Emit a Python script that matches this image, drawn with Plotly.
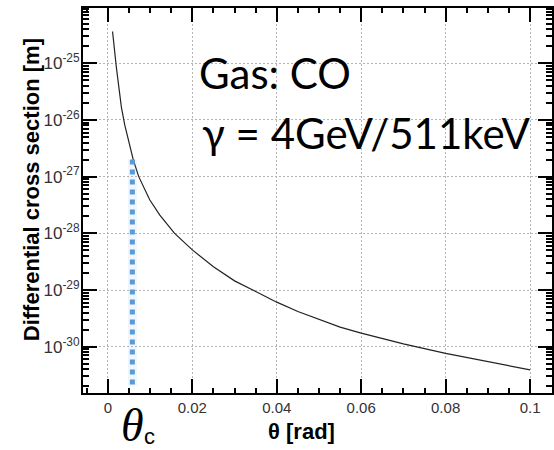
import plotly.graph_objects as go

# Differential cross section vs scattering angle
theta_rad = [0.0011, 0.0015, 0.0020, 0.0027, 0.0032, 0.0040, 0.0048, 0.0060,
             0.0073, 0.0099, 0.0123, 0.0158, 0.020, 0.025, 0.030, 0.035,
             0.040, 0.045, 0.050, 0.055, 0.060, 0.070, 0.080, 0.090, 0.100]
dsigma_m = [3.63e-25, 1.74e-25, 8.5e-26, 3.3e-26, 1.66e-26, 8.1e-27, 4.4e-27, 2.0e-27,
            1.0e-27, 3.9e-28, 2.1e-28, 1.0e-28, 5.1e-29, 2.57e-29, 1.45e-29, 9.33e-30,
            6.1e-30, 4.17e-30, 2.99e-30, 2.21e-30, 1.74e-30, 1.12e-30, 7.6e-31, 5.4e-31, 3.9e-31]

# critical angle marker
theta_c_x = [0.0058, 0.0058]
theta_c_y = [2.0e-27, 2.0e-31]

x_tick_vals = [0, 0.02, 0.04, 0.06, 0.08, 0.1]
x_tick_text = ["0", "0.02", "0.04", "0.06", "0.08", "0.1"]
y_exponents = [-30, -29, -28, -27, -26, -25]

y_tick_vals = [10.0 ** e for e in y_exponents]
y_tick_text = ["10<sup>%d</sup>" % e for e in y_exponents]
y_minor_vals = [k * 10.0 ** e for e in range(-31, -24) for k in range(2, 10)]

fig = go.Figure()
fig.add_trace(go.Scatter(
    x=theta_rad, y=dsigma_m, mode="lines",
    line=dict(color="#222222", width=1.2), showlegend=False,
))
# faint halo under the marker line
fig.add_trace(go.Scatter(
    x=theta_c_x, y=theta_c_y, mode="lines",
    line=dict(color="rgba(91,155,213,0.09)", width=9), showlegend=False,
))
fig.add_trace(go.Scatter(
    x=theta_c_x, y=theta_c_y, mode="lines",
    line=dict(color="#5b9bd5", width=5, dash="dot"), showlegend=False,
))

axis_font = dict(family="Liberation Sans, Arial", color="#333333")
grid = dict(showgrid=True, gridcolor="#b4b4b4", gridwidth=1, griddash="2px,2px")

fig.update_layout(
    width=554, height=450,
    margin=dict(l=83, r=0, t=8, b=57),
    paper_bgcolor="white", plot_bgcolor="white",
    xaxis=dict(
        range=[-0.0059, 0.1052],
        tickmode="array", tickvals=x_tick_vals, ticktext=x_tick_text,
        tickfont=dict(size=15, **axis_font),
        ticks="inside", ticklen=14, tickwidth=2, tickcolor="black",
        showline=True, linecolor="black", linewidth=2, mirror="ticks",
        zeroline=False, **grid,
        minor=dict(dtick=0.005, tick0=0, ticks="inside", ticklen=5,
                   tickwidth=1.5, tickcolor="black", showgrid=False),
    ),
    yaxis=dict(
        type="log", range=[-30.817, -24.025],
        tickmode="array", tickvals=y_tick_vals, ticktext=y_tick_text,
        tickfont=dict(size=17, **axis_font), ticklabelstandoff=-2,
        ticks="inside", ticklen=14, tickwidth=2, tickcolor="black",
        showline=True, linecolor="black", linewidth=2, mirror="ticks",
        zeroline=False, **grid,
        minor=dict(tickmode="array", tickvals=y_minor_vals, ticks="inside",
                   ticklen=6, tickwidth=1.5, tickcolor="black", showgrid=False),
    ),
    annotations=[
        dict(text="<b>Differential cross section [m]</b>", textangle=-90,
             xref="paper", yref="paper", x=(31 - 83) / 471, y=(393 - 190) / 385,
             xanchor="center", yanchor="middle", showarrow=False,
             font=dict(family="Liberation Sans, Arial", size=22, color="black")),
        dict(text="<b>θ [rad]</b>", xref="paper", yref="paper",
             x=(302 - 83) / 471, y=(393 - 432) / 385,
             xanchor="center", yanchor="middle", showarrow=False,
             font=dict(family="Liberation Sans, Arial", size=22, color="black")),
        dict(text="Gas: CO", xref="paper", yref="paper",
             x=(197 - 83) / 471, y=(393 - 73) / 385,
             xanchor="left", yanchor="middle", showarrow=False,
             font=dict(family="Lato", size=42, color="black")),
        dict(text="γ = 4GeV/511keV", xref="paper", yref="paper",
             x=(200 - 83) / 471, y=(393 - 133) / 385,
             xanchor="left", yanchor="middle", showarrow=False,
             font=dict(family="Lato", size=42, color="black")),
        dict(text="<i>θ</i>", xref="paper", yref="paper",
             x=(119 - 83) / 471, y=(393 - 425) / 385,
             xanchor="left", yanchor="middle", showarrow=False,
             font=dict(family="Liberation Serif", size=46, color="black")),
        dict(text="c", xref="paper", yref="paper",
             x=(142 - 83) / 471, y=(393 - 436) / 385,
             xanchor="left", yanchor="middle", showarrow=False,
             font=dict(family="Liberation Sans, Arial", size=22, color="black")),
    ],
)

fig.write_html("out.html")
